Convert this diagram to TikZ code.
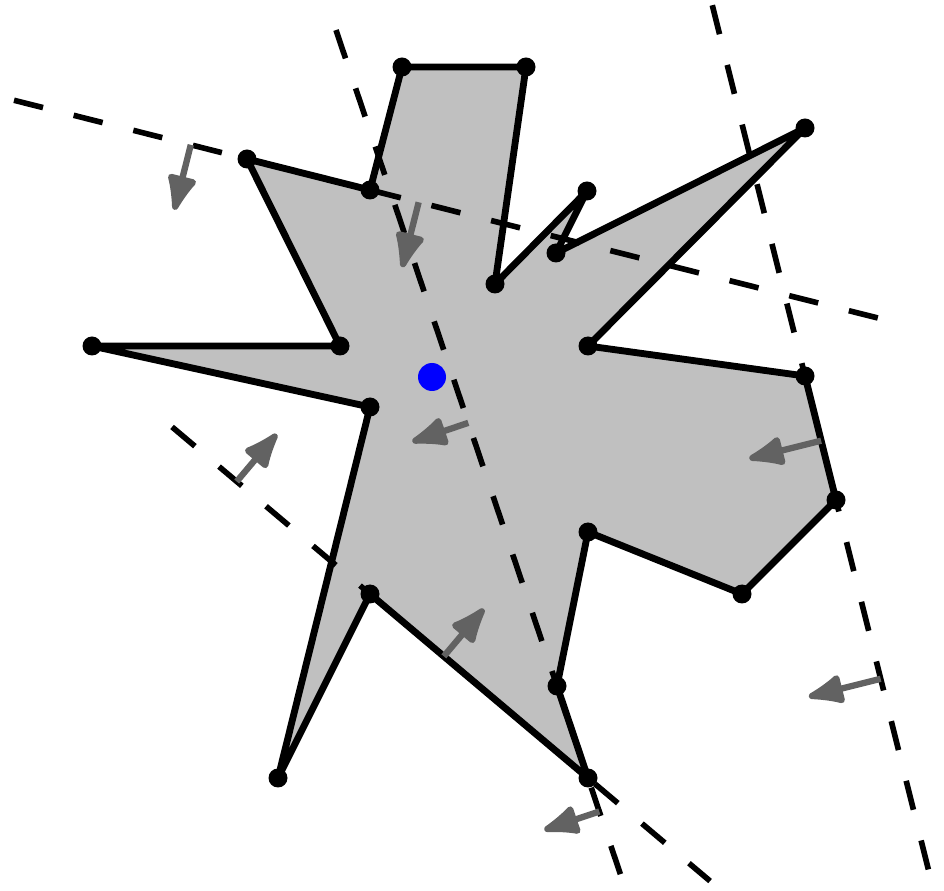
\documentclass[tikz,border=0pt]{standalone}
\usetikzlibrary{arrows.meta, calc}
\definecolor{kerngray}{RGB}{192,192,192}
\definecolor{arrowgray}{RGB}{98,98,98}

\begin{document}
\begin{tikzpicture}[x=0.02cm, y=-0.02cm,
  edge/.style={line width=3.9pt, line join=round},
  guide/.style={line width=3.2pt, dash pattern=on 17pt off 18pt},
  inward/.style={arrowgray, line width=3.6pt, -{Latex[length=25pt,width=19pt,round]}},
  vtx/.style={fill=black}]
  \useasboundingbox (0,0) rectangle (944,891);
  % polygon corners
  \foreach \i/\x/\y in {1/402/67, 2/526/67, 3/495/284, 4/587/191, 5/556/253,
      6/805/128, 7/588/346, 8/805/376, 9/836/500, 10/742/594, 11/588/532,
      12/557/686, 13/588/778, 14/370/594, 15/278/778, 16/370/407, 17/92/346,
      18/340/346, 19/247/159, 20/370/190}
    \coordinate (v\i) at (\x,\y);
  \coordinate (kernelpt) at (432,377);
  \draw[edge, fill=kerngray] (v1) -- (v2) -- (v3) -- (v4) -- (v5) -- (v6) -- (v7)
    -- (v8) -- (v9) -- (v10) -- (v11) -- (v12) -- (v13) -- (v14) -- (v15)
    -- (v16) -- (v17) -- (v18) -- (v19) -- (v20) -- cycle;
  % supporting lines of the reflex edges
  \coordinate (lAs) at ($(v19)!-1.894!(v20)$);
  \coordinate (lAe) at ($(v19)!5.195!(v20)$);
  \coordinate (lBs) at ($(v12)!-7.13!(v13)$);
  \coordinate (lBe) at ($(v12)!2.163!(v13)$);
  \coordinate (lCs) at ($(v8)!-2.99!(v9)$);
  \coordinate (lCe) at ($(v8)!3.98!(v9)$);
  \coordinate (lDs) at ($(v14)!-0.908!(v13)$);
  \coordinate (lDe) at ($(v14)!1.56!(v13)$);
  \draw[guide] (lAs) -- (lAe);
  \draw[guide] (lBs) -- (lBe);
  \draw[guide] (lCs) -- (lCe);
  \draw[guide] (lDs) -- (lDe);
  % inward normals
  \coordinate (nA1) at ($(lAs)!(190,148)!(lAe)$);
  \coordinate (nA2) at ($(lAs)!(418,205)!(lAe)$);
  \coordinate (nB1) at ($(lBs)!(468,423)!(lBe)$);
  \coordinate (nB2) at ($(lBs)!(598,812)!(lBe)$);
  \coordinate (nC1) at ($(lCs)!(820,441)!(lCe)$);
  \coordinate (nC2) at ($(lCs)!(880,679)!(lCe)$);
  \coordinate (nD1) at ($(lDs)!(238,480)!(lDe)$);
  \coordinate (nD2) at ($(lDs)!(445,655)!(lDe)$);
  \draw[inward] (nA1) -- ($(nA1)!1.34cm!-90:(lAe)$);
  \draw[inward] (nA2) -- ($(nA2)!1.34cm!-90:(lAe)$);
  \draw[inward] (nB1) -- ($(nB1)!1.18cm!-90:(lBe)$);
  \draw[inward] (nB2) -- ($(nB2)!1.16cm!-90:(lBe)$);
  \draw[inward] (nC1) -- ($(nC1)!1.48cm!-90:(lCe)$);
  \draw[inward] (nC2) -- ($(nC2)!1.48cm!-90:(lCe)$);
  \draw[inward] (nD1) -- ($(nD1)!1.24cm!90:(lDe)$);
  \draw[inward] (nD2) -- ($(nD2)!1.24cm!90:(lDe)$);
  % corners and kernel point
  \foreach \i in {1,...,20}
    \fill[vtx] (v\i) circle[radius=0.19cm];
  \fill[blue] (kernelpt) circle[radius=0.28cm];
\end{tikzpicture}
\end{document}
